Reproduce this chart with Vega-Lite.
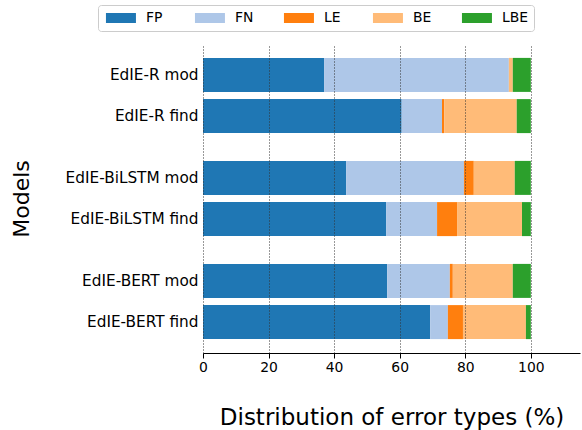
{
  "$schema": "https://vega.github.io/schema/vega-lite/v6.json",
  "width": 377,
  "height": 309,
  "autosize": {"type": "none"},
  "padding": {"left": 203, "top": 44, "right": 2, "bottom": 77},
  "config": {"font": "DejaVu Sans", "view": {"stroke": null}},
  "data": {
    "values": [
      {"model": "EdIE-R mod", "type": "FP", "value": 37.0},
      {"model": "EdIE-R mod", "type": "FN", "value": 56.3},
      {"model": "EdIE-R mod", "type": "LE", "value": 0.0},
      {"model": "EdIE-R mod", "type": "BE", "value": 1.2},
      {"model": "EdIE-R mod", "type": "LBE", "value": 5.5},
      {"model": "EdIE-R find", "type": "FP", "value": 60.6},
      {"model": "EdIE-R find", "type": "FN", "value": 12.3},
      {"model": "EdIE-R find", "type": "LE", "value": 0.7},
      {"model": "EdIE-R find", "type": "BE", "value": 22.1},
      {"model": "EdIE-R find", "type": "LBE", "value": 4.3},
      {"model": "EdIE-BiLSTM mod", "type": "FP", "value": 43.7},
      {"model": "EdIE-BiLSTM mod", "type": "FN", "value": 35.9},
      {"model": "EdIE-BiLSTM mod", "type": "LE", "value": 3.0},
      {"model": "EdIE-BiLSTM mod", "type": "BE", "value": 12.5},
      {"model": "EdIE-BiLSTM mod", "type": "LBE", "value": 4.9},
      {"model": "EdIE-BiLSTM find", "type": "FP", "value": 55.9},
      {"model": "EdIE-BiLSTM find", "type": "FN", "value": 15.5},
      {"model": "EdIE-BiLSTM find", "type": "LE", "value": 6.1},
      {"model": "EdIE-BiLSTM find", "type": "BE", "value": 19.8},
      {"model": "EdIE-BiLSTM find", "type": "LBE", "value": 2.7},
      {"model": "EdIE-BERT mod", "type": "FP", "value": 56.2},
      {"model": "EdIE-BERT mod", "type": "FN", "value": 19.1},
      {"model": "EdIE-BERT mod", "type": "LE", "value": 0.9},
      {"model": "EdIE-BERT mod", "type": "BE", "value": 18.3},
      {"model": "EdIE-BERT mod", "type": "LBE", "value": 5.5},
      {"model": "EdIE-BERT find", "type": "FP", "value": 69.3},
      {"model": "EdIE-BERT find", "type": "FN", "value": 5.4},
      {"model": "EdIE-BERT find", "type": "LE", "value": 4.6},
      {"model": "EdIE-BERT find", "type": "BE", "value": 19.2},
      {"model": "EdIE-BERT find", "type": "LBE", "value": 1.5}
    ]
  },
  "transform": [
    {"calculate": "indexof(['FP','FN','LE','BE','LBE'], datum.type)", "as": "k"}
  ],
  "mark": {"type": "bar", "size": 34},
  "encoding": {
    "y": {
      "field": "model",
      "type": "nominal",
      "scale": {
        "domain": ["EdIE-R mod", "_1", "EdIE-R find", "_2", "_3", "EdIE-BiLSTM mod", "_4", "EdIE-BiLSTM find", "_5", "_6", "EdIE-BERT mod", "_7", "EdIE-BERT find"],
        "paddingInner": 0,
        "paddingOuter": 1.037
      },
      "axis": {
        "values": ["EdIE-R mod", "EdIE-R find", "EdIE-BiLSTM mod", "EdIE-BiLSTM find", "EdIE-BERT mod", "EdIE-BERT find"],
        "title": "Models",
        "ticks": false,
        "domain": false,
        "grid": false,
        "labelFontSize": 15.3,
        "labelColor": "#000",
        "labelPadding": 5,
        "titleFontSize": 22,
        "titleFontWeight": "normal",
        "titleColor": "#000",
        "titleAngle": -90,
        "titleX": -174.7,
        "titleY": 154.5,
        "titleAlign": "center",
        "titleBaseline": "alphabetic"
      }
    },
    "x": {
      "field": "value",
      "type": "quantitative",
      "stack": "zero",
      "scale": {"domain": [0, 115], "nice": false},
      "axis": {
        "values": [0, 20, 40, 60, 80, 100],
        "title": "Distribution of error types (%)",
        "grid": true,
        "gridColor": "#333",
        "gridDash": [1, 2],
        "gridWidth": 1,
        "domainColor": "#000",
        "tickColor": "#000",
        "tickSize": 5,
        "labelFontSize": 13.9,
        "labelColor": "#000",
        "labelPadding": 2,
        "labelFlush": false,
        "titleFontSize": 23,
        "titleFontWeight": "normal",
        "titleColor": "#000",
        "titleX": 188.5,
        "titleY": 71.3,
        "titleAlign": "center",
        "titleBaseline": "alphabetic",
        "zindex": 1
      }
    },
    "color": {
      "field": "type",
      "type": "nominal",
      "scale": {
        "domain": ["FP", "FN", "LE", "BE", "LBE"],
        "range": ["#1f77b4", "#aec7e8", "#ff7f0e", "#ffbb78", "#2ca02c"]
      },
      "legend": {
        "orient": "none",
        "legendX": -105,
        "legendY": -39,
        "direction": "horizontal",
        "title": null,
        "symbolType": "M-1,-1h6v2h-6z",
        "symbolSize": 100,
        "symbolStrokeWidth": 0,
        "symbolOpacity": 1,
        "labelFontSize": 13.9,
        "labelColor": "#000",
        "labelOffset": 28,
        "columnPadding": 21,
        "gridAlign": "all",
        "padding": 6,
        "strokeColor": "#ccc",
        "cornerRadius": 3,
        "fillColor": "#fff"
      }
    },
    "order": {"field": "k", "type": "quantitative"}
  }
}
